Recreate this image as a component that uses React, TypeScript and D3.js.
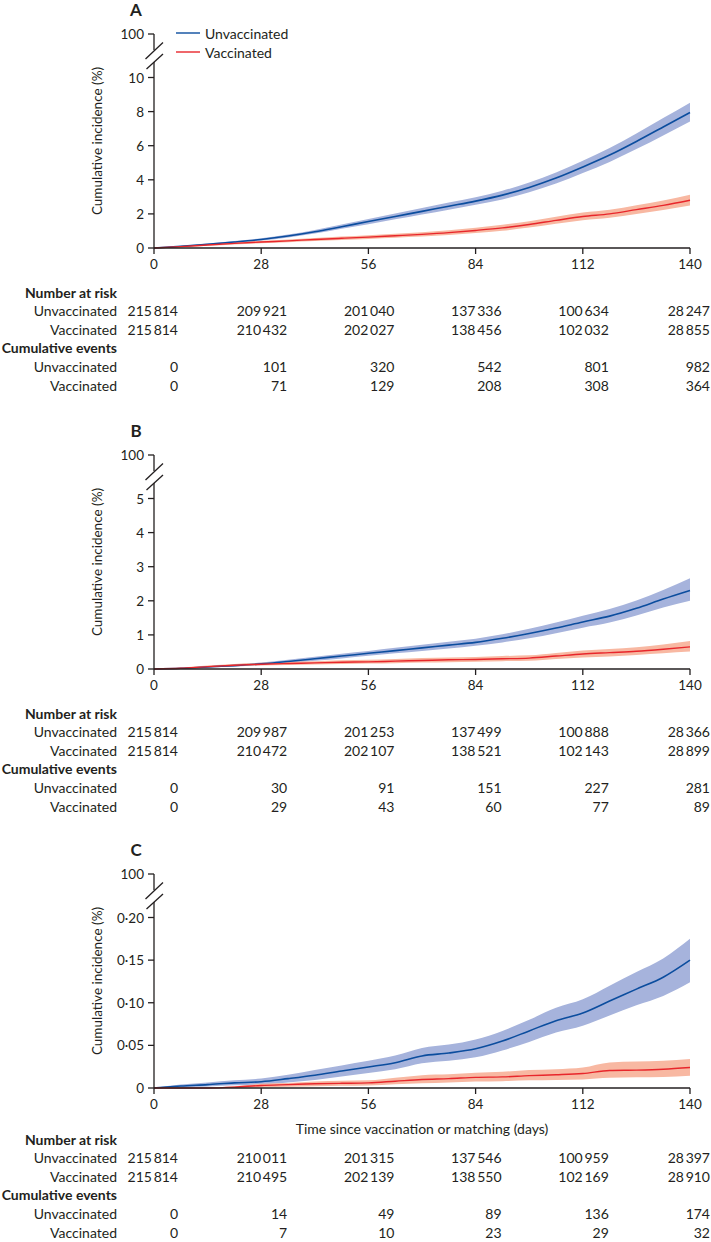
import React from "react";
import * as d3 from "d3";

// ---------- data ----------
const DAYS = [0, 7, 14, 21, 28, 35, 42, 49, 56, 63, 70, 77, 84, 91, 98, 105, 112, 119, 126, 133, 140];
const X_TICKS = [0, 28, 56, 84, 112, 140];
const SERIES = ["Unvaccinated", "Vaccinated"];

// Panel A
const A_UNVAX = [0, 0.1, 0.22, 0.35, 0.5, 0.7, 0.95, 1.25, 1.55, 1.85, 2.15, 2.45, 2.75, 3.1, 3.55, 4.1, 4.75, 5.45, 6.25, 7.1, 7.95];
const A_UNVAX_LO = [0, 0.08, 0.18, 0.3, 0.44, 0.62, 0.85, 1.13, 1.4, 1.68, 1.96, 2.24, 2.53, 2.85, 3.27, 3.78, 4.4, 5.05, 5.8, 6.6, 7.42];
const A_UNVAX_HI = [0, 0.13, 0.27, 0.41, 0.57, 0.79, 1.06, 1.38, 1.7, 2.03, 2.35, 2.67, 2.98, 3.36, 3.84, 4.43, 5.12, 5.87, 6.72, 7.62, 8.52];
const A_VAX = [0, 0.08, 0.18, 0.27, 0.35, 0.42, 0.5, 0.57, 0.64, 0.72, 0.8, 0.9, 1.03, 1.18, 1.38, 1.62, 1.85, 2.0, 2.25, 2.5, 2.8];
const A_VAX_LO = [0, 0.05, 0.13, 0.21, 0.28, 0.34, 0.41, 0.47, 0.53, 0.6, 0.67, 0.76, 0.88, 1.01, 1.2, 1.42, 1.63, 1.77, 2.0, 2.23, 2.5];
const A_VAX_HI = [0, 0.11, 0.23, 0.33, 0.42, 0.5, 0.59, 0.67, 0.75, 0.84, 0.93, 1.04, 1.19, 1.36, 1.57, 1.83, 2.08, 2.24, 2.51, 2.79, 3.12];
const A_Y_TICKS = [0, 2, 4, 6, 8, 10];
const A_RISK_UNVAX = [215814, 209921, 201040, 137336, 100634, 28247];
const A_RISK_VAX = [215814, 210432, 202027, 138456, 102032, 28855];
const A_EVENTS_UNVAX = [0, 101, 320, 542, 801, 982];
const A_EVENTS_VAX = [0, 71, 129, 208, 308, 364];

// Panel B
const B_UNVAX = [0, 0.02, 0.06, 0.1, 0.15, 0.22, 0.3, 0.38, 0.46, 0.54, 0.62, 0.7, 0.78, 0.9, 1.04, 1.2, 1.38, 1.55, 1.78, 2.05, 2.3];
const B_UNVAX_LO = [0, 0.01, 0.04, 0.07, 0.11, 0.17, 0.24, 0.31, 0.39, 0.46, 0.53, 0.6, 0.68, 0.78, 0.9, 1.05, 1.21, 1.36, 1.57, 1.8, 2.0];
const B_UNVAX_HI = [0, 0.03, 0.08, 0.13, 0.19, 0.27, 0.36, 0.45, 0.53, 0.62, 0.71, 0.8, 0.89, 1.02, 1.18, 1.36, 1.56, 1.76, 2.01, 2.32, 2.66];
const B_VAX = [0, 0.02, 0.07, 0.11, 0.14, 0.16, 0.18, 0.2, 0.21, 0.23, 0.25, 0.27, 0.28, 0.3, 0.32, 0.38, 0.44, 0.48, 0.52, 0.58, 0.65];
const B_VAX_LO = [0, 0.01, 0.04, 0.08, 0.1, 0.12, 0.13, 0.15, 0.16, 0.17, 0.19, 0.2, 0.21, 0.23, 0.24, 0.29, 0.34, 0.37, 0.41, 0.46, 0.51];
const B_VAX_HI = [0, 0.04, 0.1, 0.15, 0.18, 0.21, 0.23, 0.26, 0.27, 0.29, 0.32, 0.34, 0.35, 0.38, 0.4, 0.47, 0.54, 0.59, 0.64, 0.72, 0.82];
const B_Y_TICKS = [0, 1, 2, 3, 4, 5];
const B_RISK_UNVAX = [215814, 209987, 201253, 137499, 100888, 28366];
const B_RISK_VAX = [215814, 210472, 202107, 138521, 102143, 28899];
const B_EVENTS_UNVAX = [0, 30, 91, 151, 227, 281];
const B_EVENTS_VAX = [0, 29, 43, 60, 77, 89];

// Panel C
const C_UNVAX = [0, 0.0023, 0.004, 0.006, 0.0074, 0.011, 0.015, 0.02, 0.0247, 0.0297, 0.0376, 0.041, 0.046, 0.055, 0.067, 0.079, 0.088, 0.102, 0.116, 0.13, 0.15];
const C_UNVAX_LO = [0, 0.0008, 0.0018, 0.0032, 0.004, 0.0065, 0.0095, 0.0135, 0.0175, 0.022, 0.029, 0.032, 0.036, 0.044, 0.054, 0.065, 0.073, 0.085, 0.097, 0.108, 0.124];
const C_UNVAX_HI = [0, 0.004, 0.0065, 0.009, 0.011, 0.0155, 0.021, 0.0265, 0.032, 0.038, 0.047, 0.051, 0.057, 0.067, 0.08, 0.094, 0.104, 0.12, 0.136, 0.152, 0.175];
const C_VAX = [0, 0, 0, 0.001, 0.003, 0.004, 0.005, 0.0055, 0.006, 0.008, 0.01, 0.011, 0.0125, 0.013, 0.0145, 0.0155, 0.017, 0.0205, 0.021, 0.022, 0.024];
const C_VAX_LO = [0, 0, 0, 0, 0.001, 0.0015, 0.002, 0.0025, 0.003, 0.0045, 0.0055, 0.0065, 0.0075, 0.008, 0.009, 0.0095, 0.01, 0.012, 0.0125, 0.013, 0.0145];
const C_VAX_HI = [0, 0, 0, 0.002, 0.005, 0.006, 0.0075, 0.0085, 0.009, 0.012, 0.015, 0.016, 0.018, 0.019, 0.021, 0.022, 0.024, 0.03, 0.031, 0.032, 0.034];
const C_Y_TICKS = [0, 0.05, 0.1, 0.15, 0.2];
const C_RISK_UNVAX = [215814, 210011, 201315, 137546, 100959, 28397];
const C_RISK_VAX = [215814, 210495, 202139, 138550, 102169, 28910];
const C_EVENTS_UNVAX = [0, 14, 49, 89, 136, 174];
const C_EVENTS_VAX = [0, 7, 10, 23, 29, 32];

// ---------- style ----------
const FONT = "Lato, 'Open Sans', 'DejaVu Sans', sans-serif";
const INK = "#231f20";
const BLUE = "#0b4d9e";
const BLUE_BAND = "#a6b3dc";
const RED = "#e8262b";
const RED_BAND = "#f8b8a2";
const X0 = 154;
const X1 = 690;

const numFmt = d3.formatLocale({ decimal: ".", thousands: "\u2009", grouping: [3], currency: ["", ""] }).format(",d");
const decFmt = d3.formatLocale({ decimal: "·", thousands: "", grouping: [3], currency: ["", ""] }).format(".2f");

type PanelCfg = {
  letter: string;
  top: number;
  yMax: number;
  yTicks: number[];
  decimals: boolean;
  unvax: number[]; unvaxLo: number[]; unvaxHi: number[];
  vax: number[]; vaxLo: number[]; vaxHi: number[];
  riskUnvax: number[]; riskVax: number[];
  evUnvax: number[]; evVax: number[];
  legend: boolean;
  xTitle: boolean;
};

const PANELS: PanelCfg[] = [
  { letter: "A", top: 34, yMax: 10, yTicks: A_Y_TICKS, decimals: false,
    unvax: A_UNVAX, unvaxLo: A_UNVAX_LO, unvaxHi: A_UNVAX_HI, vax: A_VAX, vaxLo: A_VAX_LO, vaxHi: A_VAX_HI,
    riskUnvax: A_RISK_UNVAX, riskVax: A_RISK_VAX, evUnvax: A_EVENTS_UNVAX, evVax: A_EVENTS_VAX, legend: true, xTitle: false },
  { letter: "B", top: 455, yMax: 5, yTicks: B_Y_TICKS, decimals: false,
    unvax: B_UNVAX, unvaxLo: B_UNVAX_LO, unvaxHi: B_UNVAX_HI, vax: B_VAX, vaxLo: B_VAX_LO, vaxHi: B_VAX_HI,
    riskUnvax: B_RISK_UNVAX, riskVax: B_RISK_VAX, evUnvax: B_EVENTS_UNVAX, evVax: B_EVENTS_VAX, legend: false, xTitle: false },
  { letter: "C", top: 874, yMax: 0.2, yTicks: C_Y_TICKS, decimals: true,
    unvax: C_UNVAX, unvaxLo: C_UNVAX_LO, unvaxHi: C_UNVAX_HI, vax: C_VAX, vaxLo: C_VAX_LO, vaxHi: C_VAX_HI,
    riskUnvax: C_RISK_UNVAX, riskVax: C_RISK_VAX, evUnvax: C_EVENTS_UNVAX, evVax: C_EVENTS_VAX, legend: false, xTitle: true },
];

function Panel({ cfg }: { cfg: PanelCfg }) {
  const x = d3.scaleLinear().domain([0, 140]).range([X0, X1]);
  const y0 = cfg.top + 214;
  const y = d3.scaleLinear().domain([0, cfg.yMax]).range([y0, cfg.top + 43.5]);

  const band = (lo: number[], hi: number[]) =>
    d3.area<number>()
      .x((_, i) => x(DAYS[i]))
      .y0((_, i) => y(lo[i]))
      .y1((_, i) => y(hi[i]))
      .curve(d3.curveMonotoneX)(DAYS) || "";
  const line = (v: number[]) =>
    d3.line<number>()
      .x((_, i) => x(DAYS[i]))
      .y((_, i) => y(v[i]))
      .curve(d3.curveMonotoneX)(DAYS) || "";

  const top = cfg.top;
  const tableStart = cfg.xTitle ? y0 + 51 : y0 + 44;
  const rowH = 18.6;
  const colX = (t: number, i: number) => (i === 0 ? x(t) + 24 : Math.min(x(t) + 26, 710));
  const rows: { kind: "head" | "row"; label: string; vals?: number[] }[] = [
    { kind: "head", label: "Number at risk" },
    { kind: "row", label: SERIES[0], vals: cfg.riskUnvax },
    { kind: "row", label: SERIES[1], vals: cfg.riskVax },
    { kind: "head", label: "Cumulative events" },
    { kind: "row", label: SERIES[0], vals: cfg.evUnvax },
    { kind: "row", label: SERIES[1], vals: cfg.evVax },
  ];

  return (
    <g>
      <text x={136} y={top - 25} fontSize={17} fontWeight={700} fill={INK} textAnchor="middle" dominantBaseline="central">{cfg.letter}</text>

      {/* data */}
      <path d={band(cfg.unvaxLo, cfg.unvaxHi)} fill={BLUE_BAND} stroke="none" />
      <path d={band(cfg.vaxLo, cfg.vaxHi)} fill={RED_BAND} stroke="none" />
      <path d={line(cfg.unvax)} fill="none" stroke={BLUE} strokeWidth={1.6} />
      <path d={line(cfg.vax)} fill="none" stroke={RED} strokeWidth={1.4} />

      {/* y axis with break */}
      <line x1={X0} x2={X0} y1={top} y2={top + 16} stroke={INK} strokeWidth={1.3} />
      <line x1={X0} x2={X0} y1={top + 28} y2={y0} stroke={INK} strokeWidth={1.3} />
      <line x1={145.5} y1={top + 25} x2={163} y2={top + 8.5} stroke={INK} strokeWidth={1.3} />
      <line x1={146.5} y1={top + 35} x2={163} y2={top + 20} stroke={INK} strokeWidth={1.3} />
      <line x1={148} x2={X0} y1={top} y2={top} stroke={INK} strokeWidth={1.3} />
      <text x={144} y={top} fontSize={13.5} fill={INK} textAnchor="end" dominantBaseline="central">100</text>
      {cfg.yTicks.map((t) => (
        <g key={t}>
          <line x1={148} x2={X0} y1={y(t)} y2={y(t)} stroke={INK} strokeWidth={1.3} />
          <text x={144} y={y(t)} fontSize={13.5} fill={INK} textAnchor="end" dominantBaseline="central">
            {cfg.decimals && t !== 0 ? decFmt(t) : String(t)}
          </text>
        </g>
      ))}
      <text transform={`translate(97,${(top + y0) / 2}) rotate(-90)`} fontSize={13.5} fill={INK} textAnchor="middle" dominantBaseline="central">
        Cumulative incidence (%)
      </text>

      {/* x axis */}
      <line x1={X0} x2={X1} y1={y0} y2={y0} stroke={INK} strokeWidth={1.3} />
      {X_TICKS.map((t) => (
        <g key={t}>
          <line x1={x(t)} x2={x(t)} y1={y0} y2={y0 + 6} stroke={INK} strokeWidth={1.3} />
          <text x={x(t)} y={y0 + 16} fontSize={13.5} fill={INK} textAnchor="middle" dominantBaseline="central">{t}</text>
        </g>
      ))}
      {cfg.xTitle && (
        <text x={(X0 + X1) / 2} y={y0 + 40} fontSize={14} fill={INK} textAnchor="middle" dominantBaseline="central">
          Time since vaccination or matching (days)
        </text>
      )}

      {/* legend */}
      {cfg.legend && SERIES.map((s, i) => (
        <g key={s}>
          <line x1={176} x2={200} y1={top - 1 + i * 19} y2={top - 1 + i * 19} stroke={i === 0 ? BLUE : RED} strokeWidth={1.4} />
          <text x={205} y={top - 1 + i * 19} fontSize={14} fill={INK} dominantBaseline="central">{s}</text>
        </g>
      ))}

      {/* table */}
      {rows.map((r, ri) => {
        const ry = tableStart + ri * rowH;
        if (r.kind === "head") {
          return (
            <text key={ri} x={117} y={ry} fontSize={14} fontWeight={700} fill={INK} textAnchor="end" dominantBaseline="central">{r.label}</text>
          );
        }
        return (
          <g key={ri}>
            <text x={117} y={ry} fontSize={14} fill={INK} textAnchor="end" dominantBaseline="central">{r.label}</text>
            {X_TICKS.map((t, i) => (
              <text key={t} x={colX(t, i)} y={ry} fontSize={14} fill={INK} textAnchor="end" dominantBaseline="central">
                {numFmt(r.vals![i])}
              </text>
            ))}
          </g>
        );
      })}
    </g>
  );
}

export default function App() {
  return (
    <svg width={711} height={1242} style={{ position: "absolute", left: 0, top: 0, fontFamily: FONT, background: "#fff" }}>
      <rect x={0} y={0} width={711} height={1242} fill="#fff" />
      {PANELS.map((p) => (
        <Panel key={p.letter} cfg={p} />
      ))}
    </svg>
  );
}
